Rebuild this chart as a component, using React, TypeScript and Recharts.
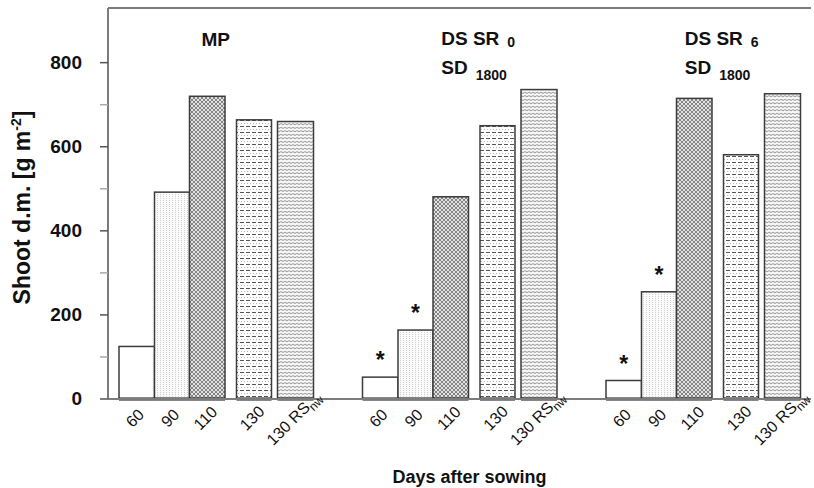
import React from 'react';
import { BarChart, Bar, XAxis, YAxis, LabelList } from 'recharts';

// groups (treatments)
const GROUPS = ['MP', 'DS SR0 SD1800', 'DS SR6 SD1800'];
const GROUP_TITLES = [
  [['MP', '']],
  [['DS SR', '0'], ['SD', '1800']],
  [['DS SR', '6'], ['SD', '1800']],
];

// shoot dry matter [g m-2] per harvest date
const SHOOT_60 = [125, 52, 44];
const SHOOT_90 = [492, 164, 255];
const SHOOT_110 = [720, 481, 715];
const SHOOT_130 = [664, 650, 581];
const SHOOT_130RS = [660, 736, 726];

// significance stars
const SIG_60 = [false, true, true];
const SIG_90 = [false, true, true];

const Y_TICKS = [0, 100, 200, 300, 400, 500, 600, 700, 800];

const data = GROUPS.map((g, i) => ({
  group: g,
  d60: SHOOT_60[i],
  d90: SHOOT_90[i],
  d110: SHOOT_110[i],
  d130: SHOOT_130[i],
  d130rs: SHOOT_130RS[i],
}));

const FONT = 'Arial, "Liberation Sans", sans-serif';
const FRAME = '#7c7c7c';

const BarShape = (props: any) => {
  const { x, y, width, height, fill } = props;
  if (!height) return null;
  return (
    <g>
      <rect x={x} y={y} width={width} height={height} fill={fill} stroke="#3c3c3c" strokeWidth={1.5} />
      <line x1={x} x2={x + width} y1={y + height} y2={y + height} stroke="#111" strokeWidth={3} />
    </g>
  );
};

const dayLabel = (main: string, sub: string, sig?: boolean[]) => (p: any) => {
  const { x, y, width, height, index } = p;
  const cx = x + width / 2;
  const base = y + height;
  const mx = cx + 2;
  const my = base + 23;
  return (
    <g>
      <text
        x={mx}
        y={my}
        textAnchor="middle"
        transform={`rotate(-45 ${mx} ${my})`}
        fontFamily={FONT}
        fontSize={16}
        fill="#111"
      >
        {main}
        {sub ? <tspan fontSize={12} dy={4}>{sub}</tspan> : null}
      </text>
      {sig && sig[index] ? (
        <text x={cx} y={y - 9} textAnchor="middle" fontFamily={FONT} fontWeight="bold" fontSize={23} fill="#111">
          *
        </text>
      ) : null}
    </g>
  );
};

const TitleTick = (props: any) => {
  const { x, index } = props;
  const lines = GROUP_TITLES[index] || [];
  if (lines.length === 1) {
    return (
      <text x={x} y={46} textAnchor="middle" fontFamily={FONT} fontWeight="bold" fontSize={19} fill="#111">
        {lines[0][0]}
      </text>
    );
  }
  return (
    <g>
      {lines.map((l, i) => (
        <text key={i} x={x - 18} y={45 + i * 29} fontFamily={FONT} fontWeight="bold" fontSize={19} fill="#111">
          {l[0]}
          <tspan fontSize={14} dx={8} dy={i === 0 ? 2 : 6}>{l[1]}</tspan>
        </text>
      ))}
    </g>
  );
};

const YTick = (props: any) => {
  const { x, y, payload } = props;
  const v = payload.value;
  const major = v % 200 === 0;
  return (
    <g>
      <line x1={x - 8} x2={x} y1={y} y2={y} stroke={major ? '#555' : '#aaa'} strokeWidth={1.5} />
      {major ? (
        <text x={x - 26} y={y + 6} textAnchor="end" fontFamily={FONT} fontWeight="bold" fontSize={19} fill="#111">
          {v}
        </text>
      ) : null}
    </g>
  );
};

const YLabel = (props: any) => {
  const { viewBox } = props;
  const cx = viewBox.x + 30;
  const cy = viewBox.y + viewBox.height / 2 + 4;
  return (
    <text
      x={cx}
      y={cy}
      textAnchor="middle"
      transform={`rotate(-90 ${cx} ${cy})`}
      fontFamily={FONT}
      fontWeight="bold"
      fontSize={23}
      fill="#111"
    >
      Shoot d.m. [g m<tspan fontSize={14} dy={-9}>-2</tspan>
      <tspan dy={9}>]</tspan>
    </text>
  );
};

const XLabel = (props: any) => {
  const { viewBox } = props;
  return (
    <text
      x={viewBox.x + viewBox.width / 2 + 10}
      y={viewBox.y + 84}
      textAnchor="middle"
      fontFamily={FONT}
      fontWeight="bold"
      fontSize={18}
      fill="#111"
    >
      Days after sowing
    </text>
  );
};

const PAD = { left: -14, right: -13.5 };

export default function App() {
  return (
    <div style={{ position: 'absolute', left: 0, top: 0, background: '#fff' }}>
      <BarChart
        width={814}
        height={488}
        data={data}
        margin={{ top: 8, right: 3, bottom: 0, left: 0 }}
        barGap={0}
      >
        <defs>
          <pattern id="p90" width={3} height={2} patternUnits="userSpaceOnUse">
            <rect width={3} height={2} fill="#fbfbfb" />
            <rect x={1} y={0} width={1} height={1} fill="#cfcfcf" />
          </pattern>
          <pattern id="p110" width={4} height={4} patternUnits="userSpaceOnUse">
            <rect width={4} height={4} fill="#e2e2e2" />
            <path d="M0,0 L4,4 M4,0 L0,4" stroke="#858585" strokeWidth={1} />
          </pattern>
          <pattern id="p130" width={6} height={6} patternUnits="userSpaceOnUse">
            <rect width={6} height={6} fill="#fdfdfd" />
            <rect x={0} y={0} width={4} height={1} fill="#555" />
            <rect x={1} y={3} width={1} height={1} fill="#b8b8b8" />
            <rect x={4} y={3} width={1} height={1} fill="#b8b8b8" />
          </pattern>
          <pattern id="p130rs" width={4} height={3.5} patternUnits="userSpaceOnUse">
            <rect width={4} height={3.5} fill="#fcfcfc" />
            <path d="M0,1.8 L1,1.2 L2,1.8 L3,2.4 L4,1.8" fill="none" stroke="#8c8c8c" strokeWidth={0.9} />
          </pattern>
        </defs>
        <XAxis
          dataKey="group"
          height={89}
          padding={PAD}
          tick={false}
          tickLine={false}
          axisLine={{ stroke: FRAME, strokeWidth: 2 }}
          label={{ content: XLabel }}
        />
        <XAxis
          xAxisId="top"
          dataKey="group"
          orientation="top"
          mirror
          padding={PAD}
          tickLine={false}
          tick={TitleTick}
          axisLine={{ stroke: FRAME, strokeWidth: 2 }}
        />
        <YAxis
          width={108}
          domain={[0, 930]}
          ticks={Y_TICKS}
          interval={0}
          tickSize={0}
          tickMargin={0}
          tickLine={false}
          tick={YTick}
          axisLine={{ stroke: FRAME, strokeWidth: 2 }}
          label={{ content: YLabel }}
        />
        <YAxis
          yAxisId="r"
          orientation="right"
          mirror
          width={0}
          domain={[0, 930]}
          tick={false}
          tickLine={false}
          axisLine={{ stroke: FRAME, strokeWidth: 2 }}
        />
        <Bar dataKey="d60" barSize={35.5} fill="#ffffff" shape={BarShape} isAnimationActive={false}>
          <LabelList dataKey="d60" content={dayLabel('60', '', SIG_60)} />
        </Bar>
        <Bar dataKey="d90" barSize={35} fill="url(#p90)" shape={BarShape} isAnimationActive={false}>
          <LabelList dataKey="d90" content={dayLabel('90', '', SIG_90)} />
        </Bar>
        <Bar dataKey="d110" barSize={35.5} fill="url(#p110)" shape={BarShape} isAnimationActive={false}>
          <LabelList dataKey="d110" content={dayLabel('110', '')} />
        </Bar>
        <Bar dataKey="gapA" barSize={11.5} fill="none" isAnimationActive={false} />
        <Bar dataKey="d130" barSize={35} fill="url(#p130)" shape={BarShape} isAnimationActive={false}>
          <LabelList dataKey="d130" content={dayLabel('130', '')} />
        </Bar>
        <Bar dataKey="gapB" barSize={6} fill="none" isAnimationActive={false} />
        <Bar dataKey="d130rs" barSize={36} fill="url(#p130rs)" shape={BarShape} isAnimationActive={false}>
          <LabelList dataKey="d130rs" content={dayLabel('130 RS', 'nw')} />
        </Bar>
      </BarChart>
    </div>
  );
}
